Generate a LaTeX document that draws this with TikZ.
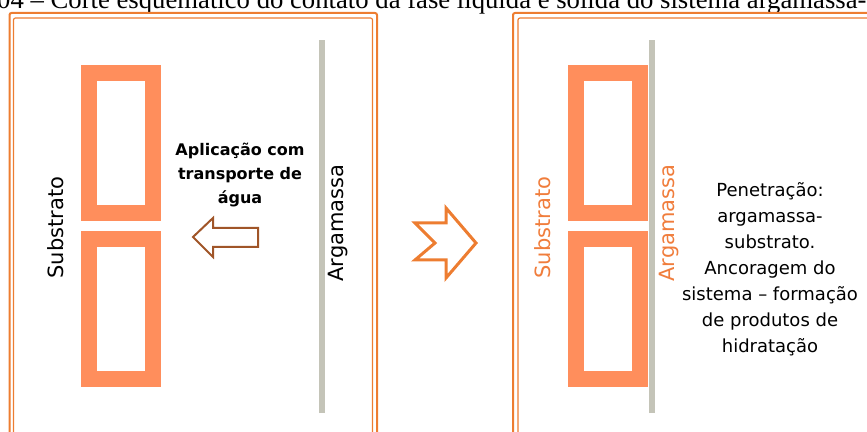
\documentclass[tikz,border=0pt]{standalone}
\usepackage{fontspec}
\usepackage{xcolor}
\usepackage{tikz}
\usetikzlibrary{positioning}
\setmainfont{DejaVu Sans}
\newfontfamily\legendafont{Liberation Serif}
\definecolor{moldura}{RGB}{237,125,49}
\definecolor{tijoloCor}{RGB}{255,142,92}
\definecolor{argamassaCor}{RGB}{196,196,184}
\definecolor{setaMarrom}{RGB}{160,85,40}
\definecolor{textoLaranja}{RGB}{240,125,60}

\begin{document}
\begin{tikzpicture}[
        x=1pt, y=1pt,
        tijolo/.style={rectangle, draw=tijoloCor, line width=16pt, fill=white, inner sep=0pt, minimum width=64pt, minimum height=140pt},
        camada/.style={draw=argamassaCor, line width=6pt},
        rotulo/.style={rotate=90, font=\fontsize{21}{25}\selectfont},
        nota/.style={align=center, font=\fontsize{18}{26}\selectfont},
        quadro/.style={draw=moldura, rounded corners=2pt}
    ]
    \clip (0,0) rectangle (867,431);

    % Legenda (cortada)
    \node[anchor=base west, font=\legendafont\fontsize{26.7}{30}\selectfont, inner sep=0pt] (legenda) at (-3,422) {04 – Corte esquemático do contato da fase líquida e sólida do sistema argamassa-};

    % Molduras
    \draw[quadro, line width=2pt] (9.5,418) rectangle (377,-20);
    \draw[quadro, line width=1.2pt] (13.5,413) rectangle (372.5,-20);
    \draw[quadro, line width=2pt] (513,418) rectangle (900,-20);
    \draw[quadro, line width=1.2pt] (518,413) rectangle (900,-20);

    % Antes da aplicacao
    \draw[camada] (322,18) -- (322,391);
    \node[tijolo] (tijoloA) at (121,287.5) {};
    \node[tijolo] (tijoloB) at (121,122) {};
    \node[rotulo] (substratoA) at (56,203.5) {Substrato};
    \node[rotulo] (argamassaA) at (338,208) {Argamassa};
    \node[nota, font=\bfseries\fontsize{16}{24}\selectfont] (aplicacao) at (240,256) {Aplicação com\\transporte de\\água};
    \draw[setaMarrom, line width=2pt, line join=miter]
        (193,194) -- (213,213) -- (213,203) -- (258,203) -- (258,184) -- (213,184) -- (213,174) -- cycle;

    % Seta entre os quadros
    \draw[moldura, line width=3pt, line join=miter]
        (415,208) -- (446,208) -- (446,223) -- (476,188) -- (446,153) -- (446,171) -- (415,171) -- (435,188) -- cycle;

    % Depois da aplicacao
    \draw[camada] (652,18) -- (652,391);
    \node[tijolo] (tijoloC) at (608,287.5) {};
    \node[tijolo] (tijoloD) at (608,122) {};
    \node[rotulo, textoLaranja] (substratoB) at (543,203.5) {Substrato};
    \node[rotulo, textoLaranja] (argamassaB) at (669,208) {Argamassa};
    \node[nota] (penetracao) at (770,162) {Penetração:\\argamassa-\\substrato.\\Ancoragem do\\sistema – formação\\de produtos de\\hidratação};

\end{tikzpicture}
\end{document}
